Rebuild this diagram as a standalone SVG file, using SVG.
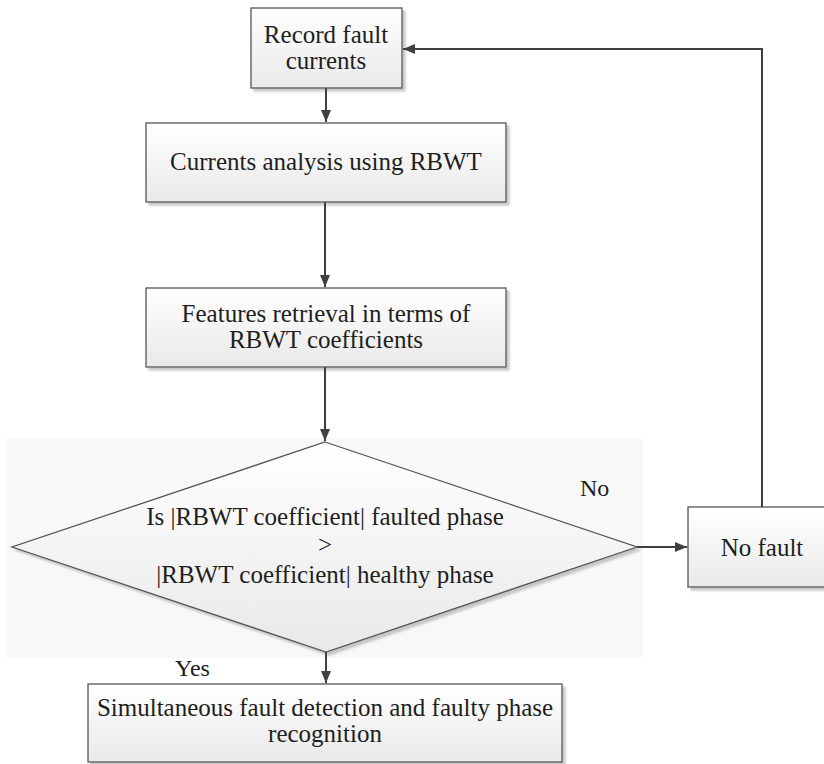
<svg xmlns="http://www.w3.org/2000/svg" width="824" height="764" viewBox="0 0 824 764">
<defs>
<linearGradient id="g" x1="0" y1="0" x2="0" y2="1">
<stop offset="0" stop-color="#ffffff"/>
<stop offset="1" stop-color="#e9e9e9"/>
</linearGradient>
<filter id="sh" x="-5%" y="-5%" width="115%" height="115%">
<feDropShadow dx="3" dy="3" stdDeviation="1.2" flood-color="#b0b0b0" flood-opacity="0.7"/>
</filter>
<marker id="ah" viewBox="0 0 12 10" refX="12" refY="5" markerWidth="12" markerHeight="10" markerUnits="userSpaceOnUse" orient="auto">
<path d="M0,0 L12,5 L0,10 z" fill="#404040"/>
</marker>
<style>
.box{fill:url(#g);stroke:#555;stroke-width:1.3;filter:url(#sh)}
text{font-family:'Liberation Serif','Tinos','Times New Roman','DejaVu Serif','Noto Serif',serif;fill:#1e1e1e}
.t{font-size:25px;text-anchor:middle}
.l{font-size:24px}
.c{fill:none;stroke:#404040;stroke-width:2;marker-end:url(#ah)}
</style>
</defs>
<rect x="0" y="0" width="824" height="764" fill="#ffffff"/>
<rect x="6" y="438" width="637" height="220" fill="#f8f8f8"/>

<g id="record">
<rect class="box" x="251" y="8" width="151" height="80"/>
<text class="t" x="326" y="43" font-family="Liberation Serif, serif">Record fault</text>
<text class="t" x="326" y="69" font-family="Liberation Serif, serif">currents</text>
</g>
<g id="analysis">
<rect class="box" x="146" y="123" width="360" height="79"/>
<text class="t" x="326" y="170" font-family="Liberation Serif, serif">Currents analysis using RBWT</text>
</g>
<g id="features">
<rect class="box" x="146" y="288" width="360" height="79"/>
<text class="t" x="326" y="322" font-family="Liberation Serif, serif">Features retrieval in terms of</text>
<text class="t" x="326" y="348" font-family="Liberation Serif, serif">RBWT coefficients</text>
</g>
<g id="decision">
<polygon class="box" points="325,442 637,547 326,652 12,547"/>
<text class="t" x="325" y="525" font-family="Liberation Serif, serif">Is |RBWT coefficient| faulted phase</text>
<text class="t" x="325" y="553" font-family="Liberation Serif, serif">&gt;</text>
<text class="t" x="325" y="583" font-family="Liberation Serif, serif">|RBWT coefficient| healthy phase</text>
</g>
<g id="nofault">
<rect class="box" x="688" y="507" width="150" height="80"/>
<text class="t" x="762" y="556" font-family="Liberation Serif, serif">No fault</text>
</g>
<g id="result">
<rect class="box" x="88" y="684" width="474" height="78"/>
<text class="t" x="325" y="716" font-family="Liberation Serif, serif">Simultaneous fault detection and faulty phase</text>
<text class="t" x="325" y="742" font-family="Liberation Serif, serif">recognition</text>
</g>

<g id="connectors">
<line class="c" x1="326" y1="88" x2="326" y2="122"/>
<line class="c" x1="325" y1="202" x2="325" y2="287"/>
<line class="c" x1="325" y1="367" x2="325" y2="441"/>
<line class="c" x1="326" y1="652" x2="326" y2="683"/>
<line class="c" x1="637" y1="547" x2="687" y2="547"/>
<polyline class="c" points="762,507 762,49 403,49"/>
</g>
<g id="labels">
<text class="l" x="580" y="496" font-family="Liberation Serif, serif">No</text>
<text class="l" x="175" y="676" font-family="Liberation Serif, serif">Yes</text>
</g>
</svg>
